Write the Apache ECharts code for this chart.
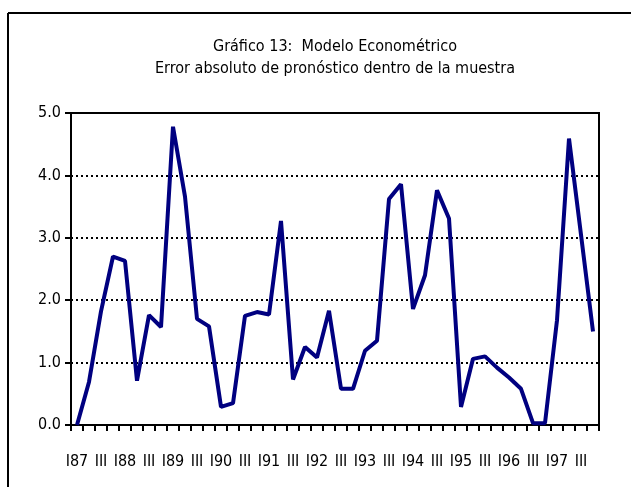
<!DOCTYPE html>
<html>
<head>
<meta charset="utf-8">
<script src="https://cdn.jsdelivr.net/npm/echarts@6/dist/echarts.min.js"></script>
<style>
  html, body { margin: 0; padding: 0; background: #fff; }
  #chart { width: 631px; height: 487px; }
</style>
</head>
<body>
<div id="chart"></div>
<script>
// quarters I87 .. IV97
const years = ['87', '88', '89', '90', '91', '92', '93', '94', '95', '96', '97'];
const quarters = [];
years.forEach(y => { quarters.push('I' + y, 'II', 'III', 'IV'); });

// absolute forecast error (in-sample)
const absError = [
  0.00, 0.69, 1.82, 2.70, 2.63, 0.71, 1.76, 1.57, 4.78, 3.66, 1.70,
  1.58, 0.29, 0.35, 1.75, 1.81, 1.77, 3.27, 0.73, 1.25, 1.08, 1.83,
  0.58, 0.58, 1.19, 1.35, 3.62, 3.86, 1.86, 2.40, 3.76, 3.31, 0.29,
  1.06, 1.10, 0.92, 0.76, 0.58, 0.03, 0.03, 1.68, 4.59, 3.05, 1.50
];

const titleLines = ['Gráfico 13:  Modelo Econométrico', 'Error absoluto de pronóstico dentro de la muestra'];

const FONT = '"Liberation Sans Narrow", "DejaVu Sans Condensed", "Liberation Sans", sans-serif';

const chart = echarts.init(document.getElementById('chart'));
chart.setOption({
  animation: false,
  title: {
    text: titleLines.join('\n'),
    left: 330,
    top: 31,
    textAlign: 'center',
    textStyle: {
      fontFamily: FONT,
      fontSize: 16,
      fontWeight: 'normal',
      color: '#000',
      lineHeight: 22
    }
  },
  graphic: [
    { type: 'line', shape: { x1: 8, y1: 13, x2: 631, y2: 13 }, style: { stroke: '#000', lineWidth: 2 } },
    { type: 'line', shape: { x1: 8, y1: 13, x2: 8, y2: 487 }, style: { stroke: '#000', lineWidth: 2 } }
  ],
  grid: {
    left: 71,
    right: 32,
    top: 113,
    bottom: 62,
    show: true,
    borderColor: '#000',
    borderWidth: 2,
    backgroundColor: 'transparent'
  },
  xAxis: {
    type: 'category',
    data: quarters,
    boundaryGap: true,
    axisLine: { lineStyle: { color: '#000', width: 2 } },
    axisTick: { show: true, interval: 0, length: 6, lineStyle: { color: '#000', width: 2 } },
    axisLabel: {
      interval: 1,
      margin: 29,
      color: '#000',
      fontFamily: FONT,
      fontSize: 16
    },
    splitLine: { show: false }
  },
  yAxis: {
    type: 'value',
    min: 0,
    max: 5,
    interval: 1,
    axisLine: { show: true, lineStyle: { color: '#000', width: 2 } },
    axisTick: { show: true, length: 6, lineStyle: { color: '#000', width: 2 } },
    axisLabel: {
      margin: 10,
      color: '#000',
      fontFamily: FONT,
      fontSize: 16,
      formatter: v => v.toFixed(1)
    },
    splitLine: {
      show: true,
      lineStyle: { color: '#000', type: [2, 3], width: 2 }
    }
  },
  series: [{
    type: 'line',
    data: absError,
    symbol: 'none',
    lineStyle: { color: '#000080', width: 4 },
    itemStyle: { color: '#000080' }
  }]
});
</script>
</body>
</html>
